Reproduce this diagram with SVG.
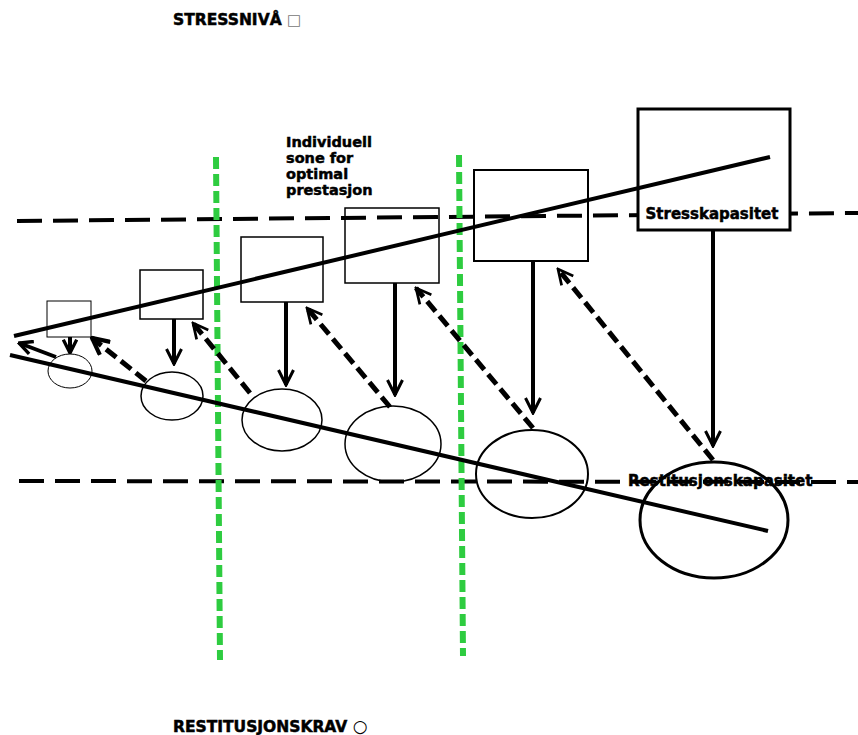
<svg xmlns="http://www.w3.org/2000/svg" width="858" height="735" viewBox="0 0 858 735">
<defs>
<style>
.lbl{font-family:"DejaVu Sans","Liberation Sans",Arial,sans-serif;font-weight:bold;fill:#000;stroke:#000;stroke-width:0.5;}
.box{fill:none;stroke:#000;}
.circ{fill:none;stroke:#000;}
.solid{stroke:#000;stroke-width:4;fill:none;}
.dash{stroke:#000;stroke-width:5;fill:none;stroke-dasharray:13 6;}
.hdash{stroke:#000;stroke-width:4;fill:none;stroke-dasharray:25 11;}
.green{stroke:#2ecc40;stroke-width:6;fill:none;stroke-dasharray:12 5;}
</style>
<marker id="vh" viewBox="0 0 12 12" refX="11" refY="6" markerWidth="4.5" markerHeight="4.5" orient="auto" markerUnits="strokeWidth">
<path d="M1,1 L11,6 L1,11" fill="none" stroke="#000" stroke-width="2"/>
</marker>
<marker id="vhd" viewBox="0 0 12 12" refX="11" refY="6" markerWidth="3.6" markerHeight="3.6" orient="auto" markerUnits="strokeWidth">
<path d="M1,1 L11,6 L1,11" fill="none" stroke="#000" stroke-width="1.8"/>
</marker>
<marker id="vhs" viewBox="0 0 12 12" refX="11" refY="6" markerWidth="4" markerHeight="4" orient="auto" markerUnits="strokeWidth">
<path d="M1,1 L11,6 L1,11" fill="none" stroke="#000" stroke-width="2.5"/>
</marker>
</defs>
<rect width="858" height="735" fill="#fff"/>
<g id="zones">
<line class="hdash" x1="17" y1="221" x2="858" y2="213"/>
<line class="hdash" x1="19" y1="481" x2="858" y2="482"/>
<line class="green" x1="216" y1="157" x2="220" y2="660"/>
<line class="green" x1="459" y1="155" x2="463" y2="656"/>
</g>
<g id="boxes">
<g id="box1"><rect class="box" x="47" y="301" width="44" height="36" stroke-width="1"/></g>
<g id="box2"><rect class="box" x="140" y="270" width="63" height="49" stroke-width="1.5"/></g>
<g id="box3"><rect class="box" x="241" y="237" width="82" height="65" stroke-width="1.5"/></g>
<g id="box4"><rect class="box" x="345" y="208" width="94" height="75" stroke-width="1.5"/></g>
<g id="box5"><rect class="box" x="474" y="170" width="114" height="91" stroke-width="2"/></g>
<g id="box6"><rect x="638" y="109" width="152" height="121" fill="#fff" stroke="#000" stroke-width="3"/>
<text class="lbl" x="712" y="219" font-size="15" text-anchor="middle">Stresskapasitet</text></g>
</g>
<g id="circles">
<g id="c1"><ellipse class="circ" cx="70" cy="371" rx="22" ry="17" stroke-width="1"/></g>
<g id="c2"><ellipse class="circ" cx="172" cy="396" rx="31" ry="24" stroke-width="1.5"/></g>
<g id="c3"><ellipse class="circ" cx="282" cy="420" rx="40" ry="31" stroke-width="1.5"/></g>
<g id="c4"><ellipse class="circ" cx="393" cy="444" rx="48" ry="38" stroke-width="1.5"/></g>
<g id="c5"><ellipse class="circ" cx="532" cy="474" rx="56" ry="44" stroke-width="2"/></g>
<g id="c6"><ellipse class="circ" cx="714" cy="520" rx="74" ry="58" stroke-width="3"/></g>
</g>
<g id="connectors">
<line class="solid" x1="14" y1="336" x2="770" y2="157"/>
<line class="solid" x1="10" y1="355" x2="768" y2="531"/>
<line class="solid" x1="70" y1="337" x2="70" y2="353" stroke-width="3" marker-end="url(#vhs)"/>
<line class="solid" x1="174" y1="319" x2="174" y2="364" marker-end="url(#vh)"/>
<line class="solid" x1="286" y1="302" x2="286" y2="385" marker-end="url(#vh)"/>
<line class="solid" x1="395" y1="283" x2="395" y2="395" marker-end="url(#vh)"/>
<line class="solid" x1="533" y1="261" x2="533" y2="413" marker-end="url(#vh)"/>
<line class="solid" x1="713" y1="230" x2="713" y2="446" marker-end="url(#vh)"/>
<line class="solid" x1="56" y1="357" x2="19" y2="343" stroke-width="2" marker-end="url(#vhs)"/>
<line class="dash" x1="146" y1="381" x2="92" y2="338" stroke-width="3" stroke-dasharray="9 5" marker-end="url(#vhs)"/>
<line class="dash" x1="250" y1="393" x2="193" y2="323" marker-end="url(#vhd)"/>
<line class="dash" x1="390" y1="407" x2="307" y2="308" marker-end="url(#vhd)"/>
<line class="dash" x1="533" y1="428" x2="416" y2="288" marker-end="url(#vhd)"/>
<line class="dash" x1="713" y1="460" x2="558" y2="269" marker-end="url(#vhd)"/>
</g>
<g id="labels">
<text class="lbl" x="173" y="25" font-size="15.5">STRESSNIVÅ <tspan font-weight="normal" stroke-width="0" fill="#777" font-size="15">□</tspan></text>
<text class="lbl" x="173" y="732" font-size="15.5">RESTITUSJONSKRAV <tspan font-weight="normal" stroke-width="0" font-size="17">○</tspan></text>
<text class="lbl" font-size="14.5"><tspan x="286" y="147">Individuell</tspan><tspan x="286" y="163">sone for</tspan><tspan x="286" y="179">optimal</tspan><tspan x="286" y="195">prestasjon</tspan></text>
<text class="lbl" x="628" y="486" font-size="15">Restitusjonskapasitet</text>
</g>
</svg>
